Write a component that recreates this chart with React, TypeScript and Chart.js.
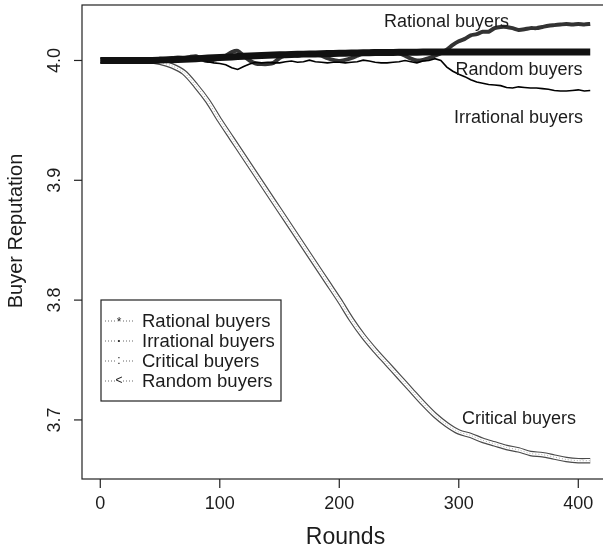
import React, { useEffect, useRef } from "react";
import { Chart, registerables } from "chart.js";

Chart.register(...registerables);

// Rounds sampled every 5 (noisy series) and every 10 (smooth series)
const roundsFine: number[] = Array.from({ length: 83 }, (_, i) => i * 5);
const roundsCoarse: number[] = Array.from({ length: 42 }, (_, i) => i * 10);

// Buyer reputation per round, rounds 0..410 step 5
const rationalRep: number[] = [
  4.0, 4.0, 4.0, 4.0, 4.0, 4.0, 4.0, 4.0, 4.0, 4.0005,
  4.001, 4.0015, 4.002, 4.0025, 4.002, 4.003, 4.0035, 4.001, 3.9995, 4.0005,
  4.002, 4.004, 4.007, 4.008, 4.004, 4.0, 3.9975, 3.997, 3.997, 3.998,
  4.002, 4.004, 4.005, 4.004, 4.005, 4.006, 4.005, 4.004, 4.002, 4.0005,
  3.9995, 4.0005, 4.002, 4.004, 4.006, 4.007, 4.008, 4.007, 4.008, 4.007,
  4.006, 4.004, 4.0015, 4.0, 4.0005, 4.002, 4.004, 4.006, 4.009, 4.013,
  4.016, 4.018, 4.021, 4.022, 4.024, 4.024, 4.027, 4.028, 4.028, 4.027,
  4.0255, 4.026, 4.027, 4.027, 4.028, 4.029, 4.0295, 4.03, 4.0305, 4.03,
  4.0305, 4.03, 4.0305,
];

const irrationalRep: number[] = [
  4.0, 4.0, 4.0, 4.0, 4.0, 4.0, 4.0, 4.0, 4.0, 4.0,
  4.0005, 4.001, 4.0, 4.0005, 4.001, 4.0, 3.9995, 4.0005, 3.999, 3.998,
  3.9975, 3.9965, 3.994, 3.9925, 3.995, 3.997, 3.9985, 3.998, 3.9985, 3.998,
  3.998, 3.999, 3.9995, 3.9985, 3.999, 4.0003, 3.999, 3.9985, 3.998, 3.9985,
  3.9985, 3.998, 3.9985, 3.999, 4.0003, 3.9995, 3.9985, 3.998, 3.998, 3.9985,
  3.999, 4.0, 3.999, 3.998, 3.9995, 4.0, 4.0015, 4.0, 3.9945, 3.991,
  3.9885, 3.9865, 3.984, 3.982, 3.981, 3.98, 3.9795, 3.979, 3.9775, 3.977,
  3.978, 3.9775, 3.977, 3.977, 3.9765, 3.976, 3.975, 3.9745, 3.9745, 3.975,
  3.9755, 3.9745, 3.975,
];

// Rounds 0..410 step 10
const criticalRep: number[] = [
  4.0, 4.0, 4.0, 4.0, 4.0, 3.9985, 3.9955, 3.99, 3.979, 3.966,
  3.95, 3.935, 3.92, 3.905, 3.89, 3.875, 3.86, 3.845, 3.83, 3.815,
  3.8, 3.784, 3.77, 3.758, 3.747, 3.736, 3.725, 3.714, 3.704, 3.696,
  3.69, 3.687, 3.683, 3.68, 3.677, 3.675, 3.672, 3.671, 3.669, 3.667,
  3.666, 3.666,
];

const randomRep: number[] = [
  4.0, 4.0, 4.0, 4.0, 4.0, 4.0003, 4.0007, 4.001, 4.0015, 4.002,
  4.0025, 4.003, 4.0035, 4.004, 4.0043, 4.0047, 4.005, 4.0053, 4.0055, 4.0058,
  4.006, 4.0062, 4.0064, 4.0066, 4.0067, 4.0068, 4.0069, 4.007, 4.007, 4.007,
  4.007, 4.007, 4.007, 4.007, 4.007, 4.007, 4.007, 4.007, 4.007, 4.007,
  4.007, 4.007,
];

const xTicks: number[] = [0, 100, 200, 300, 400];
const yTicks: number[] = [3.7, 3.8, 3.9, 4.0];
const legendLabels: string[] = ["Rational buyers", "Irrational buyers", "Critical buyers", "Random buyers"];
const legendMarks: string[] = ["*", "•", ":", "<"];

const FONT = '"Liberation Sans", Arial, Helvetica, sans-serif';
const INK = "#1c1c1c";

const toPoints = (xs: number[], ys: number[]) => ys.map((v, i) => ({ x: xs[i], y: v }));

// Curve labels placed in data coordinates
const curveNotes = [
  { text: "Rational buyers", x: 289.7, y: 4.0317 },
  { text: "Random buyers", x: 350.4, y: 3.9917 },
  { text: "Irrational buyers", x: 350, y: 3.952 },
  { text: "Critical buyers", x: 350.4, y: 3.7009 },
];

const framePlugin = {
  id: "rFrame",
  afterDraw(chart: any) {
    const { ctx, chartArea: a } = chart;
    const xs = chart.scales.x;
    const ys = chart.scales.y;
    const seg = (x1: number, y1: number, x2: number, y2: number) => {
      ctx.beginPath();
      ctx.moveTo(x1, y1);
      ctx.lineTo(x2, y2);
      ctx.stroke();
    };
    ctx.save();
    ctx.strokeStyle = "#222";
    ctx.lineWidth = 1.2;
    ctx.strokeRect(a.left, a.top, a.right - a.left, a.bottom - a.top);

    ctx.fillStyle = INK;
    ctx.font = `18px ${FONT}`;
    ctx.textAlign = "center";
    ctx.textBaseline = "middle";
    xTicks.forEach((v) => {
      const px = xs.getPixelForValue(v);
      seg(px, a.bottom, px, a.bottom + 9);
      ctx.fillText(String(v), px, a.bottom + 25);
    });
    yTicks.forEach((v) => {
      const py = ys.getPixelForValue(v);
      seg(a.left - 8, py, a.left, py);
      ctx.save();
      ctx.translate(a.left - 27, py);
      ctx.rotate(-Math.PI / 2);
      ctx.fillText(v.toFixed(1), 0, 0);
      ctx.restore();
    });

    // axis titles
    ctx.font = `23px ${FONT}`;
    ctx.fillText("Rounds", (a.left + a.right) / 2, 538);
    ctx.save();
    ctx.font = `20px ${FONT}`;
    ctx.translate(16, 231);
    ctx.rotate(-Math.PI / 2);
    ctx.fillText("Buyer Reputation", 0, 0);
    ctx.restore();

    // curve labels
    ctx.font = `18px ${FONT}`;
    curveNotes.forEach((n) => {
      ctx.fillText(n.text, xs.getPixelForValue(n.x), ys.getPixelForValue(n.y));
    });

    // legend
    const lx = 101, ly = 300, lw = 180, lh = 101;
    ctx.fillStyle = "#fff";
    ctx.fillRect(lx, ly, lw, lh);
    ctx.strokeStyle = "#222";
    ctx.lineWidth = 1.2;
    ctx.strokeRect(lx, ly, lw, lh);
    legendLabels.forEach((label, i) => {
      const yy = ly + 21 + i * 20;
      ctx.save();
      ctx.strokeStyle = "#666";
      ctx.lineWidth = 1;
      ctx.setLineDash([1, 2]);
      seg(lx + 4, yy, lx + 32, yy);
      ctx.restore();
      ctx.fillStyle = "#fff";
      ctx.fillRect(lx + 14, yy - 4, 8, 8);
      ctx.fillStyle = INK;
      ctx.textAlign = "center";
      ctx.font = i === 1 ? `8px ${FONT}` : `12px ${FONT}`;
      ctx.fillText(legendMarks[i], lx + 18, yy + (i === 0 ? 2 : 0));
      ctx.textAlign = "left";
      ctx.font = `18.5px ${FONT}`;
      ctx.fillText(label, lx + 41, yy + 1);
    });
    ctx.restore();
  },
};

export default function App() {
  const ref = useRef<HTMLCanvasElement | null>(null);

  useEffect(() => {
    if (!ref.current) return;
    const chart = new Chart(ref.current, {
      type: "line",
      data: {
        datasets: [
          {
            label: "Random buyers",
            data: toPoints(roundsCoarse, randomRep),
            borderColor: "#111",
            borderWidth: 7,
            pointRadius: 0,
            tension: 0.3,
          },
          {
            label: "Critical buyers",
            data: toPoints(roundsCoarse, criticalRep),
            borderColor: "#aaaaaa",
            borderWidth: 1,
            borderDash: [1, 2],
            pointRadius: 0,
            tension: 0.3,
          },
          {
            label: "Critical buyers",
            data: toPoints(roundsCoarse, criticalRep),
            borderColor: "#ffffff",
            borderWidth: 3.2,
            pointRadius: 0,
            tension: 0.3,
          },
          {
            label: "Critical buyers",
            data: toPoints(roundsCoarse, criticalRep),
            borderColor: "#4a4a4a",
            borderWidth: 5.5,
            pointRadius: 0,
            tension: 0.3,
          },
          {
            label: "Irrational buyers",
            data: toPoints(roundsFine, irrationalRep),
            borderColor: "#000",
            borderWidth: 1.6,
            pointRadius: 0,
            tension: 0,
          },
          {
            label: "Rational buyers",
            data: toPoints(roundsFine, rationalRep),
            borderColor: "#333",
            borderWidth: 4,
            pointRadius: 0,
            tension: 0.2,
          },
        ],
      },
      options: {
        animation: false,
        responsive: false,
        devicePixelRatio: 1,
        layout: { padding: { left: 82, top: 5, right: 3, bottom: 72 } },
        plugins: { legend: { display: false }, tooltip: { enabled: false }, title: { display: false } },
        scales: {
          x: { type: "linear", min: -15.3, max: 425.7, display: false },
          y: { type: "linear", min: 3.6507, max: 4.0463, display: false },
        },
      },
      plugins: [framePlugin],
    });
    return () => chart.destroy();
  }, []);

  return (
    <div
      style={{
        position: "absolute",
        left: 0,
        top: 0,
        width: 603,
        height: 551,
        overflow: "hidden",
        background: "#fff",
      }}
    >
      <canvas ref={ref} width={612} height={551} style={{ display: "block", width: 612, height: 551 }} />
    </div>
  );
}
